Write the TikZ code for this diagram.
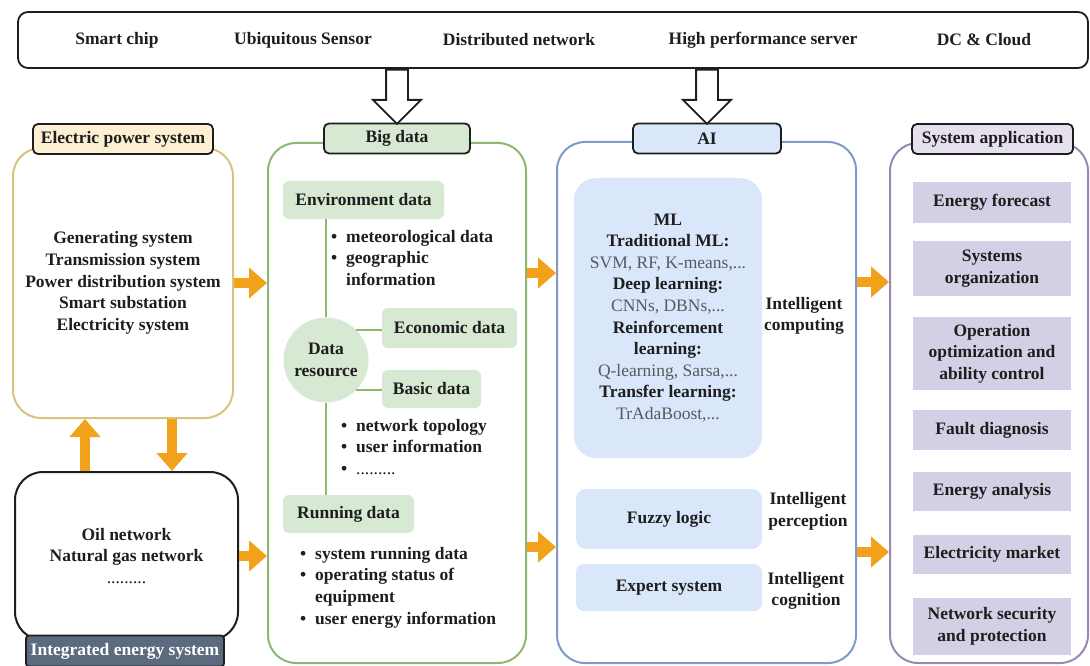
\documentclass[tikz,border=0pt]{standalone}
\usepackage{fontspec}
\setmainfont{Liberation Serif}
\usetikzlibrary{arrows.meta,positioning,shapes.arrows}

\definecolor{ink}{HTML}{1E1E1E}
\definecolor{alg}{HTML}{555A60}
\definecolor{flow}{HTML}{F2A21A}
\definecolor{epsline}{HTML}{D8C47E}
\definecolor{epsfill}{HTML}{FCEFD2}
\definecolor{iesfill}{HTML}{5B6A7E}
\definecolor{bdline}{HTML}{8DB873}
\definecolor{bdfill}{HTML}{D7E8D3}
\definecolor{ailine}{HTML}{7E9ACA}
\definecolor{aifill}{HTML}{DAE7FA}
\definecolor{saline}{HTML}{9C86B5}
\definecolor{safill}{HTML}{E6E0EE}
\definecolor{saitem}{HTML}{D2D0E4}

\tikzset{
  frame/.style={rounded corners=28pt, line width=2pt},
  tab/.style={draw=ink, line width=1.8pt, rounded corners=5pt, minimum height=30pt, inner sep=0pt},
  box/.style={rounded corners=6pt, inner sep=0pt, align=center},
  flowarrow/.style={draw=flow, line width=10pt, -{Triangle[length=18pt,width=30pt]}},
  hollow/.style={single arrow, draw=ink, fill=white, line width=1.8pt, shape border rotate=270,
    minimum height=54pt, single arrow head extend=13pt, inner sep=10pt, text height=0pt, text depth=0pt},
  blist/.style={anchor=west, align=left, inner sep=0pt},
}
\newcommand\blt{\makebox[15pt][l]{\textbullet}}
\newcommand\alg[1]{{\mdseries\color{alg}#1}}

\begin{document}
\begin{tikzpicture}[x=1pt,y=-1pt,font=\fontsize{17.5}{21.6}\selectfont\bfseries,text=ink]
	\useasboundingbox (0,0) rectangle (1090,666);
	% technologies
	\path (553,40) node (tech) [draw=ink, line width=1.8pt, rounded corners=10pt, minimum width=1070pt, minimum height=56pt] {};
	\path (117,40) node (chip) {Smart chip}
		  (303,40) node (sensor) {Ubiquitous Sensor}
		  (519,40) node (dnet) {Distributed network}
		  (763,40) node (server) {High performance server}
		  (984,40) node (cloud) {DC \& Cloud};

	% electric power system / integrated energy system
	\path (123,283) node (eps) [frame, draw=epsline, minimum width=220pt, minimum height=270pt, align=center]
		{Generating system\\Transmission system\\Power distribution system\\Smart substation\\Electricity system};
	\path (126.5,556) node (ies) [frame, draw=ink, minimum width=223pt, minimum height=168pt, align=center]
		{Oil network\\Natural gas network\\{\mdseries .........}};
	\path (123,139) node (epstab) [tab, fill=epsfill, minimum width=180pt] {Electric power system};
	\path (125,651) node (iestab) [tab, fill=iesfill, text=white, minimum width=198pt, minimum height=31pt, rounded corners=3pt] {Integrated energy system};
	\draw[flowarrow] (ies.north -| 85,0) -- (eps.south -| 85,0);
	\draw[flowarrow] (eps.south -| 172,0) -- (ies.north -| 172,0);

	% big data
	\path (397,403) node (bd) [frame, draw=bdline, minimum width=258pt, minimum height=520pt] {};
	\path (397,138.5) node (bdtab) [tab, fill=bdfill, minimum width=146pt] {Big data};
	\path (363.5,200) node (env) [box, fill=bdfill, minimum width=161pt, minimum height=38pt] {Environment data}
		  (331,258) node (envlist) [blist] {\blt meteorological data\\\blt geographic\\\hspace*{15pt}information}
		  (326,360) node (dr) [circle, fill=bdfill, minimum size=85pt, inner sep=0pt, align=center] {Data\\resource}
		  (449.5,328) node (eco) [box, fill=bdfill, minimum width=135pt, minimum height=40pt] {Economic data}
		  (431.5,389) node (basic) [box, fill=bdfill, minimum width=99pt, minimum height=38pt] {Basic data}
		  (341,447) node (basiclist) [blist] {\blt network topology\\\blt user information\\\blt {\mdseries .........}}
		  (348.5,514) node (run) [box, fill=bdfill, minimum width=131pt, minimum height=38pt] {Running data}
		  (300,587.5) node (runlist) [blist] {\blt system running data\\\blt operating status of\\\hspace*{15pt}equipment\\\blt user energy information};
	\draw[bdline, line width=2pt] (env.south -| dr) -- (dr.north);
	\draw[bdline, line width=2pt] (dr.south) -- (run.north -| dr);
	\draw[bdline, line width=2pt] (dr.north east) -- (dr.north east -| eco.west);
	\draw[bdline, line width=2pt] (dr.south east) -- (dr.south east -| basic.west);

	% AI
	\path (706.5,402.5) node (ai) [frame, draw=ailine, minimum width=299pt, minimum height=521pt] {};
	\path (707,138.5) node (aitab) [tab, fill=aifill, minimum width=148pt] {AI};
	\path (668,318) node (ml) [box, rounded corners=22pt, fill=aifill, minimum width=188pt, minimum height=280pt]
			{ML\\Traditional ML:\\\alg{SVM, RF, K-means,...}\\Deep learning:\\\alg{CNNs, DBNs,...}\\Reinforcement\\learning:\\\alg{Q-learning, Sarsa,...}\\Transfer learning:\\\alg{TrAdaBoost,...}}
		  (804,316) node (icomp) [align=center] {Intelligent\\computing}
		  (669,519) node (fuzzy) [box, rounded corners=10pt, fill=aifill, minimum width=186pt, minimum height=60pt] {Fuzzy logic}
		  (808,511) node (iperc) [align=center] {Intelligent\\perception}
		  (669,587.5) node (expert) [box, rounded corners=8pt, fill=aifill, minimum width=186pt, minimum height=47pt] {Expert system}
		  (806,591) node (icog) [align=center] {Intelligent\\cognition};

	% system application
	\path (989,403) node (sa) [frame, draw=saline, minimum width=198pt, minimum height=520pt] {};
	\path (992.5,139) node (satab) [tab, fill=safill, minimum width=161pt] {System application};
	\path (992,202.5) node (ef) [box, rounded corners=0pt, fill=saitem, minimum width=158pt, minimum height=41pt] {Energy forecast}
		  (992,268.5) node (so) [box, rounded corners=0pt, fill=saitem, minimum width=158pt, minimum height=55pt] {Systems\\organization}
		  (992,353.5) node (op) [box, rounded corners=0pt, fill=saitem, minimum width=158pt, minimum height=73pt] {Operation\\optimization and\\ability control}
		  (992,430) node (fd) [box, rounded corners=0pt, fill=saitem, minimum width=158pt, minimum height=40pt] {Fault diagnosis}
		  (992,491.5) node (ea) [box, rounded corners=0pt, fill=saitem, minimum width=158pt, minimum height=39pt] {Energy analysis}
		  (992,554.5) node (em) [box, rounded corners=0pt, fill=saitem, minimum width=158pt, minimum height=39pt] {Electricity market}
		  (992,626.5) node (ns) [box, rounded corners=0pt, fill=saitem, minimum width=158pt, minimum height=57pt] {Network security\\and protection};

	% flows
	\path (tech.south -| bdtab) node (tobd) [hollow, anchor=tail] {};
	\path (tech.south -| aitab) node (toai) [hollow, anchor=tail] {};
	\draw[flowarrow] (eps.east) -- (bd.west |- eps.east);
	\draw[flowarrow] (ies.east) -- (bd.west |- ies.east);
	\draw[flowarrow] (bd.east |- 0,273) -- (ai.west |- 0,273);
	\draw[flowarrow] (bd.east |- 0,547) -- (ai.west |- 0,547);
	\draw[flowarrow] (ai.east |- 0,282) -- (sa.west |- 0,282);
	\draw[flowarrow] (ai.east |- 0,552) -- (sa.west |- 0,552);
\end{tikzpicture}
\end{document}
